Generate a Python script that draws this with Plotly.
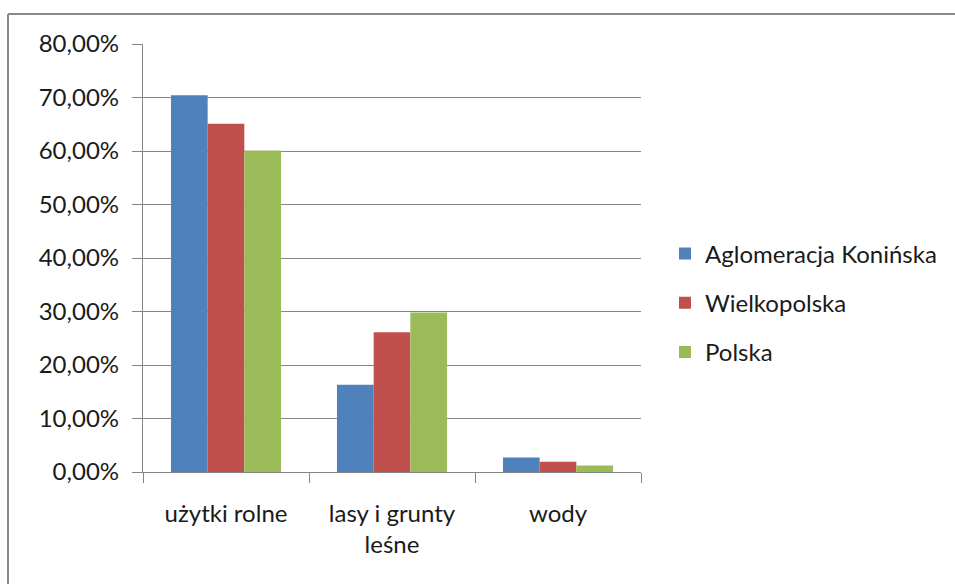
import plotly.graph_objects as go

categories = ["użytki rolne", "lasy i grunty<br>leśne", "wody"]
series_names = ["Aglomeracja Konińska", "Wielkopolska", "Polska"]
aglomeracja = [70.4, 16.3, 2.7]
wielkopolska = [65.1, 26.1, 1.9]
polska = [60.1, 29.8, 1.2]
colors = ["#4F81BD", "#C0504D", "#9BBB59"]
y_ticks = [0, 10, 20, 30, 40, 50, 60, 70, 80]
y_tick_labels = ["0,00%", "10,00%", "20,00%", "30,00%", "40,00%", "50,00%", "60,00%", "70,00%", "80,00%"]

FONT = "Lato"
FS = 24
W, H = 955, 584
L, R, T, B = 143, 314, 44, 112

fig = go.Figure()
for i, (name, vals) in enumerate(zip(series_names, [aglomeracja, wielkopolska, polska])):
    fig.add_trace(go.Bar(x=categories, y=vals, name=name, marker=dict(color=colors[i], line=dict(width=0)),
                         legendgroup=name))

pw = W - L - R
ph = H - T - B
fig.update_layout(
    width=W, height=H,
    margin=dict(l=L, r=R, t=T, b=B, pad=0),
    paper_bgcolor="white", plot_bgcolor="white",
    barmode="group", bargap=0.337, bargroupgap=0,
    font=dict(family=FONT, size=FS, color="#1a1a1a"),
    showlegend=True,
    legend=dict(x=(665 - L) / pw, xanchor="left", y=(H - B - 303) / ph, yanchor="middle",
                font=dict(family=FONT, size=FS, color="#1a1a1a"),
                traceorder="grouped", tracegroupgap=15, bgcolor="rgba(0,0,0,0)"),
    xaxis=dict(showline=True, linecolor="#868686", linewidth=1.3, ticks="outside", ticklen=10,
               tickcolor="#868686", tickson="boundaries", showgrid=False, ticklabelstandoff=20,
               tickfont=dict(family=FONT, size=FS, color="#1a1a1a"), fixedrange=True),
    yaxis=dict(range=[0, 80], tickvals=y_ticks, ticktext=y_tick_labels, showline=True,
               linecolor="#868686", linewidth=1.3, ticks="outside", ticklen=10, tickcolor="#868686",
               showgrid=True, gridcolor="#868686", gridwidth=1, zeroline=False, ticklabelstandoff=8,
               tickfont=dict(family=FONT, size=FS, color="#1a1a1a"), fixedrange=True),
)

bx0 = (8 - L) / pw
bx1 = (W + 40 - L) / pw
by_top = 1 + (T - 14) / ph
by_bot = -(B + 40) / ph
border = dict(color="#8A8A8A", width=2)
fig.add_shape(type="line", xref="paper", yref="paper", x0=bx0, x1=bx0, y0=by_bot, y1=by_top,
              line=border, layer="below")
fig.add_shape(type="line", xref="paper", yref="paper", x0=bx0, x1=bx1, y0=by_top, y1=by_top,
              line=border, layer="below")

fig.write_html(
    "out.html",
    config={"displayModeBar": False},
    post_script="document.documentElement.style.overflow='hidden';"
                "document.body.style.overflow='hidden';document.body.style.margin='0';",
)
